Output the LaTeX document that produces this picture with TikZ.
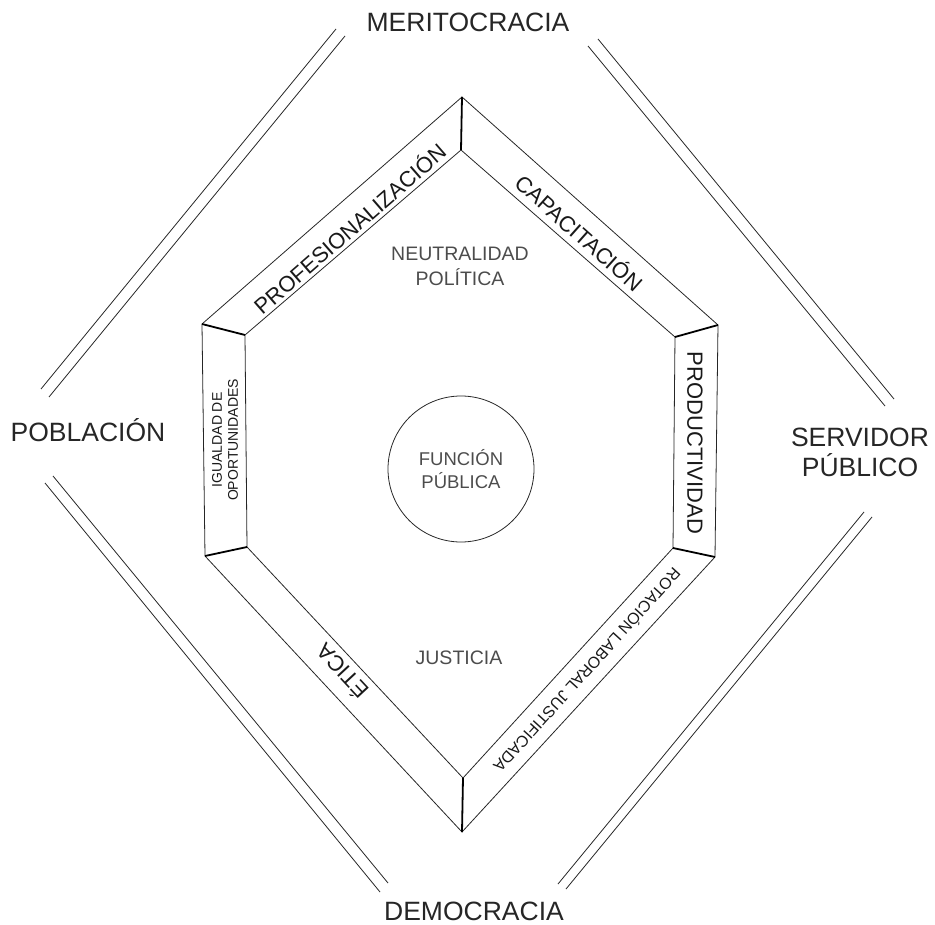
\documentclass[tikz,border=0pt]{standalone}
\usepackage{fontspec}
\setmainfont{Liberation Sans}
\tikzset{
  pole/.style={font=\fontsize{26.5}{30}\selectfont, text=black!85, align=center, inner sep=0pt},
  band/.style={font=\fontsize{22}{24}\selectfont, text=black!90, inner sep=0pt},
  smallband/.style={font=\fontsize{16}{18}\selectfont, text=black!90, inner sep=0pt},
  inside/.style={font=\fontsize{19.5}{25}\selectfont, text=black!70, align=center, inner sep=0pt},
  rim/.style={line width=0.8pt, black!85},
  joint/.style={line width=1.8pt, black},
}
\begin{document}
\begin{tikzpicture}[x=1pt,y=-1pt]
\useasboundingbox (0,0) rectangle (935,925);
% outer labels
\node[pole, anchor=base] (mer) at (468,32) {MERITOCRACIA};
\node[pole, anchor=base] (pob) at (88,441.5) {POBLACIÓN};
\node[pole] (ser) at (860,452) {SERVIDOR\\PÚBLICO};
\node[pole, anchor=base] (dem) at (474,920) {DEMOCRACIA};
% double lines
\coordinate (ula1) at (336,29); \coordinate (ulb1) at (41,389);
\coordinate (ula2) at (345,36); \coordinate (ulb2) at (49,397);
\coordinate (ura1) at (588,46); \coordinate (urb1) at (885,406);
\coordinate (ura2) at (598,39); \coordinate (urb2) at (894,399);
\coordinate (lla1) at (45,483); \coordinate (llb1) at (380,892);
\coordinate (lla2) at (53,476); \coordinate (llb2) at (388,883);
\coordinate (lra1) at (864,512); \coordinate (lrb1) at (558,884);
\coordinate (lra2) at (872,517); \coordinate (lrb2) at (566,889);
\foreach \s in {ul,ur,ll,lr}{
  \draw[rim] (\s a1) -- (\s b1);
  \draw[rim] (\s a2) -- (\s b2);
}
% hexagon
\coordinate (ot) at (462,97);  \coordinate (it) at (461,150);
\coordinate (our) at (718,325); \coordinate (iur) at (675,337);
\coordinate (olr) at (715,557); \coordinate (ilr) at (673,548);
\coordinate (ob) at (462,832); \coordinate (ib) at (463,778);
\coordinate (oll) at (205,556); \coordinate (ill) at (247,547);
\coordinate (oul) at (202,324); \coordinate (iul) at (245,335);
\draw[rim] (ot) -- (our) -- (olr) -- (ob) -- (oll) -- (oul) -- cycle;
\draw[rim] (it) -- (iur) -- (ilr) -- (ib) -- (ill) -- (iul) -- cycle;
\foreach \v in {t,ur,lr,b,ll,ul}
  \draw[joint] (o\v) -- (i\v);
% band labels
\node[band, rotate=41] (prof) at (349,228) {PROFESIONALIZACIÓN};
\node[band, rotate=-41.7] (cap) at (580,232) {CAPACITACIÓN};
\node[band, rotate=-90] (prod) at (695,443) {PRODUCTIVIDAD};
\node[smallband, rotate=227.7] (rot) at (588,671) {ROTACIÓN LABORAL JUSTIFICADA};
\node[band, rotate=133] (eti) at (342,672) {ÉTICA};
\node[band, rotate=90, font=\fontsize{14}{16}\selectfont, align=center] (igu) at (225,440) {IGUALDAD DE\\OPORTUNIDADES};
% inside
\node[inside] (neu) at (460,266) {NEUTRALIDAD\\POLÍTICA};
\node[draw, circle, rim, minimum size=146pt] (fun) at (461,469) {};
\node[inside, font=\fontsize{18.5}{23}\selectfont] at (fun) {FUNCIÓN\\PÚBLICA};
\node[inside] (jus) at (459,658) {JUSTICIA};
\end{tikzpicture}
\end{document}
